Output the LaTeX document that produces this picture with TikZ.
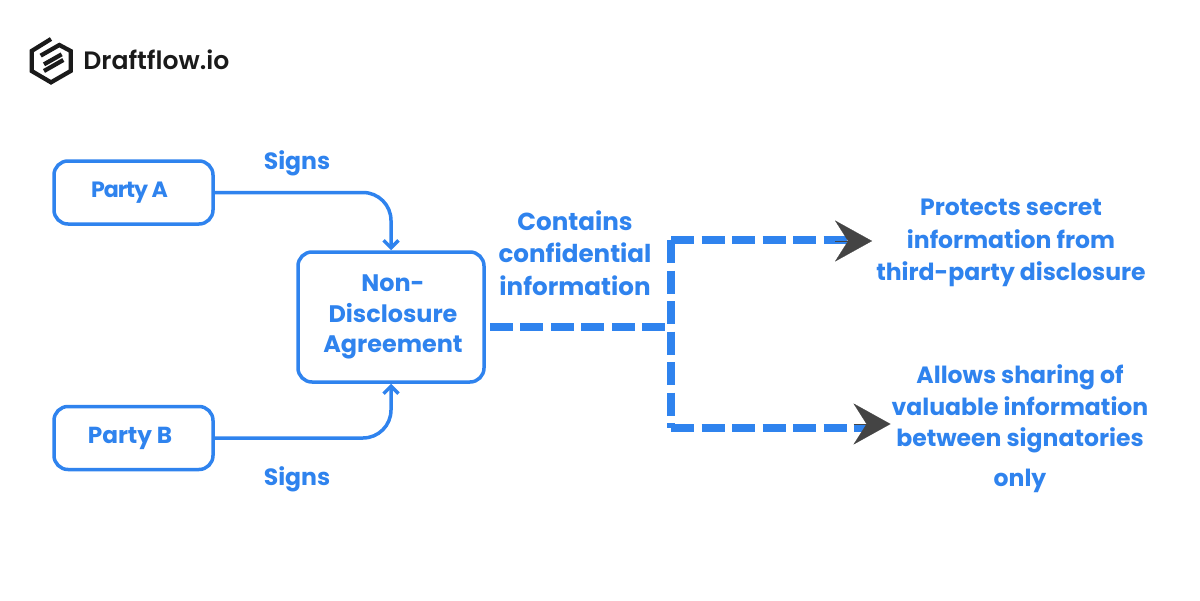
\documentclass[tikz,border=0pt]{standalone}
\usepackage{fontspec}
\setmainfont{Poppins}
\newfontfamily\brandfont{Poppins SemiBold}
\usetikzlibrary{arrows.meta}
\definecolor{ndablue}{HTML}{2F83EE}
\definecolor{headgray}{HTML}{444444}
\definecolor{logoblack}{HTML}{1A1A1A}

\begin{document}
\begin{tikzpicture}[scale=1]
		\tikzstyle{partybox}=[draw=ndablue,line width=0.07cm,rounded corners=0.28cm,text centered,text=ndablue,font=\bfseries\fontsize{13.2}{18}\selectfont,minimum width=3.18cm,minimum height=1.26cm]
		\tikzstyle{agreement}=[partybox,minimum width=3.72cm,minimum height=2.6cm,align=center,font=\bfseries\fontsize{13.6}{17.5}\selectfont]
		\tikzstyle{bluetext}=[text=ndablue,font=\bfseries\fontsize{13.4}{18.5}\selectfont,align=center,inner sep=0pt]
		\tikzstyle{signline}=[draw=ndablue,line width=0.07cm,rounded corners=0.56cm,-{Straight Barb[length=0.15cm,width=0.3cm,line width=0.07cm]}]
		\tikzstyle{dashline}=[draw=ndablue,line width=0.15cm,dash pattern=on 0.46cm off 0.15cm]
		\tikzstyle{headtip}=[draw=headgray,line width=0.1pt,-{Stealth[length=0.74cm,width=0.82cm,inset=0.26cm,color=headgray]}]
		\tikzstyle{logoline}=[draw=logoblack,line width=0.085cm]

		\useasboundingbox (0,0) rectangle (24,12);

		% logo
		\draw[logoline] (1.02,11.22) -- (0.633,10.98) -- (0.633,10.58) -- (1.02,10.353) -- (1.413,10.58) -- (1.413,10.98) -- (1.187,11.1) -- (0.813,10.887);
		\draw[logoline] (1.233,10.913) -- (0.88,10.713);
		\draw[logoline] (1.267,10.8) -- (0.88,10.58);
		\node[anchor=west,inner sep=0pt,text=logoblack,font=\brandfont\fontsize{14.3}{16}\selectfont] (brand) at (1.66,10.8) {Draftflow.io};

		\node[partybox] (partya) at (2.67,8.15) {\addfontfeature{LetterSpace=-5}\fontsize{12.6}{18}\selectfont Party A\rule{0.16cm}{0pt}};
		\node[partybox] (partyb) at (2.67,3.24) {Party B\rule{0.14cm}{0pt}};
		\node[agreement] (nda) at (7.82,5.66) {\hspace{0.08cm}Non-\\\hspace{0.08cm}Disclosure\\\hspace{0.08cm}Agreement};

		\node[bluetext] (signsa) at (5.94,8.74) {Signs};
		\node[bluetext] (signsb) at (5.94,2.42) {Signs};
		\node[bluetext,font=\bfseries\fontsize{14}{18.5}\selectfont] (contains) at (11.5,6.94) {Contains\\confidential\\information};
		\node[bluetext] (protect) at (20.22,7.14) {Protects secret\\information from\\third-party disclosure};
		\node[bluetext,font=\bfseries\fontsize{13.4}{18}\selectfont] (allows) at (20.4,3.43) {Allows sharing of\\valuable information\\between signatories\\[0.16cm]only};

		\draw[signline] (partya.east) -| (nda.north);
		\draw[signline] (partyb.east) -| (nda.south);

		\coordinate (split) at (13.32,5.46);
		\coordinate (cornera) at (13.42,7.2);
		\coordinate (cornerb) at (13.42,3.44);
		\coordinate (heada) at (16.7,7.18);
		\coordinate (headb) at (17.07,3.52);

		\draw[dashline] ([shift={(0.08,-0.2)}]nda.east) -- (split);
		\draw[dashline] (cornera) -- (cornerb);
		\draw[dashline] (cornera) -- (16.96,7.2);
		\draw[dashline] (cornerb) -- (17.34,3.44);

		\draw[headtip] (heada) -- ++(0.74,0);
		\draw[headtip] (headb) -- ++(0.74,0);
\end{tikzpicture}
\end{document}
